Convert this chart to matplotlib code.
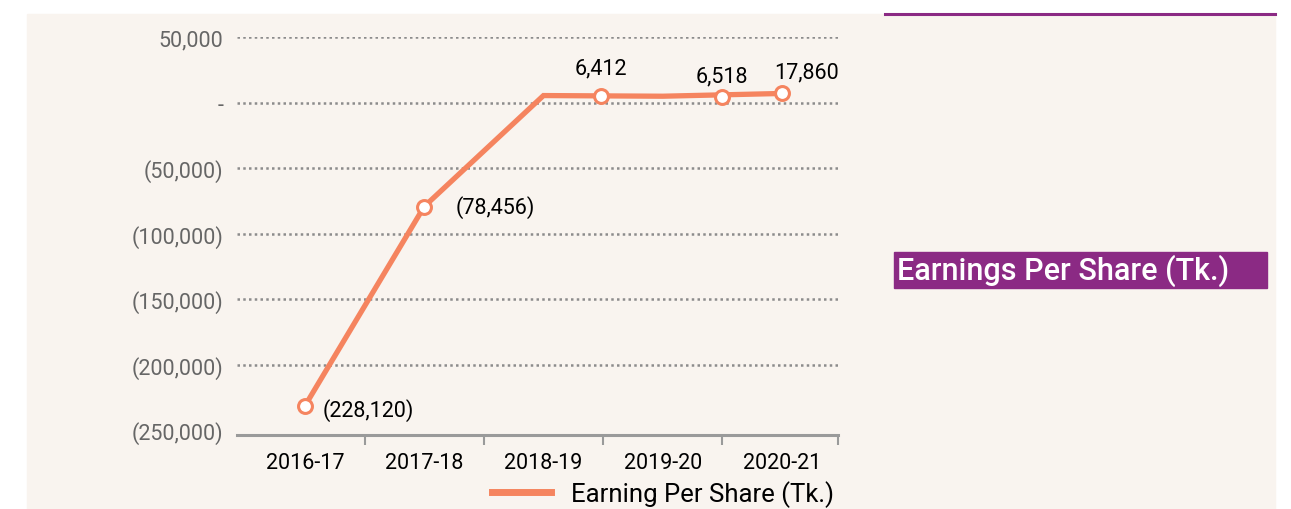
import matplotlib
matplotlib.use("Agg")
import matplotlib.pyplot as plt
from matplotlib.patches import Rectangle
from matplotlib.lines import Line2D
from matplotlib.ticker import FuncFormatter

plt.rcParams['font.family'] = ['Liberation Sans Narrow', 'DejaVu Sans Condensed',
                               'Roboto', 'DejaVu Sans']

# data
years = ['2016-17', '2017-18', '2018-19', '2019-20', '2020-21']
# line as drawn in the source
line_vals = [-231500, -79400, 5300, 4800, 6900]
# points carrying markers / labels (category units as placed in the source)
point_x = [0, 1, 2.48, 3.5, 4]
point_vals = [-231500, -79400, 4600, 3900, 6900]
point_labels = ['(228,120)', '(78,456)', '6,412', '6,518', '17,860']
label_offsets = [(12.5, -2.5), (22.5, 0), (0, 20.5), (0, 15.5), (18, 15.5)]
label_ha = ['left', 'left', 'center', 'center', 'center']

orange = '#F5845F'
purple = '#8B2A84'
cream = '#F9F4EF'
grey = '#666666'

fig = plt.figure(figsize=(12.91, 5.10), dpi=100, facecolor='white')
fig.patches.append(Rectangle((27 / 1291, 0), 1248 / 1291, 495 / 510,
                             transform=fig.transFigure, color=cream, zorder=0))
fig.add_artist(Line2D([885 / 1291, 1275 / 1291], [1 - 15 / 510, 1 - 15 / 510],
                      color=purple, lw=2.2))

ax = fig.add_axes([237 / 1291, 1 - 436 / 510, 601 / 1291, 398 / 510])
ax.set_facecolor('none')
ax.set_zorder(3)

ax.plot(range(len(years)), line_vals, color=orange, lw=3.8, zorder=3,
        solid_joinstyle='miter', solid_capstyle='butt')
ax.plot(point_x, point_vals, 'o', ms=10, mfc='white', mec=orange, mew=2.2, zorder=4)
for x, y, lab, off, ha in zip(point_x, point_vals, point_labels, label_offsets, label_ha):
    ax.annotate(lab, (x, y), xytext=off, textcoords='offset points',
                ha=ha, va='center', fontsize=15.5, color='black')

ax.set_xlim(-0.57, 4.47)
ax.set_ylim(-253800, 50000)
ax.set_yticks([50000, 0, -50000, -100000, -150000, -200000, -250000])


def fmt(v, pos):
    if v == 0:
        return '-'
    if v < 0:
        return '({:,.0f})'.format(-v)
    return '{:,.0f}'.format(v)


ax.yaxis.set_major_formatter(FuncFormatter(fmt))
ax.tick_params(axis='y', length=0, pad=10, labelsize=15.5, labelcolor=grey)
for v in [50000, 0, -50000, -100000, -150000, -200000]:
    ax.axhline(v, color='#8C8C8C', lw=1.8, ls=(0, (1, 1.3)), zorder=1)

ax.set_xticks(range(len(years)))
ax.set_xticklabels(years)
ax.tick_params(axis='x', length=0, pad=12, labelsize=15.5, labelcolor='black')
ax.set_xticks([0.5, 1.5, 2.5, 3.5, 4.47], minor=True)
ax.tick_params(axis='x', which='minor', length=7, width=1.5, color='#9A9A9A')

for s in ['left', 'right', 'top']:
    ax.spines[s].set_visible(False)
ax.spines['bottom'].set_color('#9A9A9A')
ax.spines['bottom'].set_linewidth(2.2)

handle = Line2D([], [], color=orange, lw=5)
leg = fig.legend([handle], ['Earning Per Share (Tk.)'], loc='center',
                 bbox_to_anchor=(663 / 1291, 1 - 495 / 510), frameon=False,
                 fontsize=18.5, handlelength=2.33, handletextpad=0.78)
leg.set_zorder(3)

fig.patches.append(Rectangle((894 / 1291, 1 - 289 / 510), 373 / 1291, 36 / 510,
                             transform=fig.transFigure, color=purple, zorder=1))
fig.text(897 / 1291, 1 - 271 / 510, 'Earnings Per Share (Tk.)', color='white',
         fontsize=22, fontweight='medium', va='center', ha='left', zorder=3)

fig.savefig('out.png', dpi=100, facecolor='white')
